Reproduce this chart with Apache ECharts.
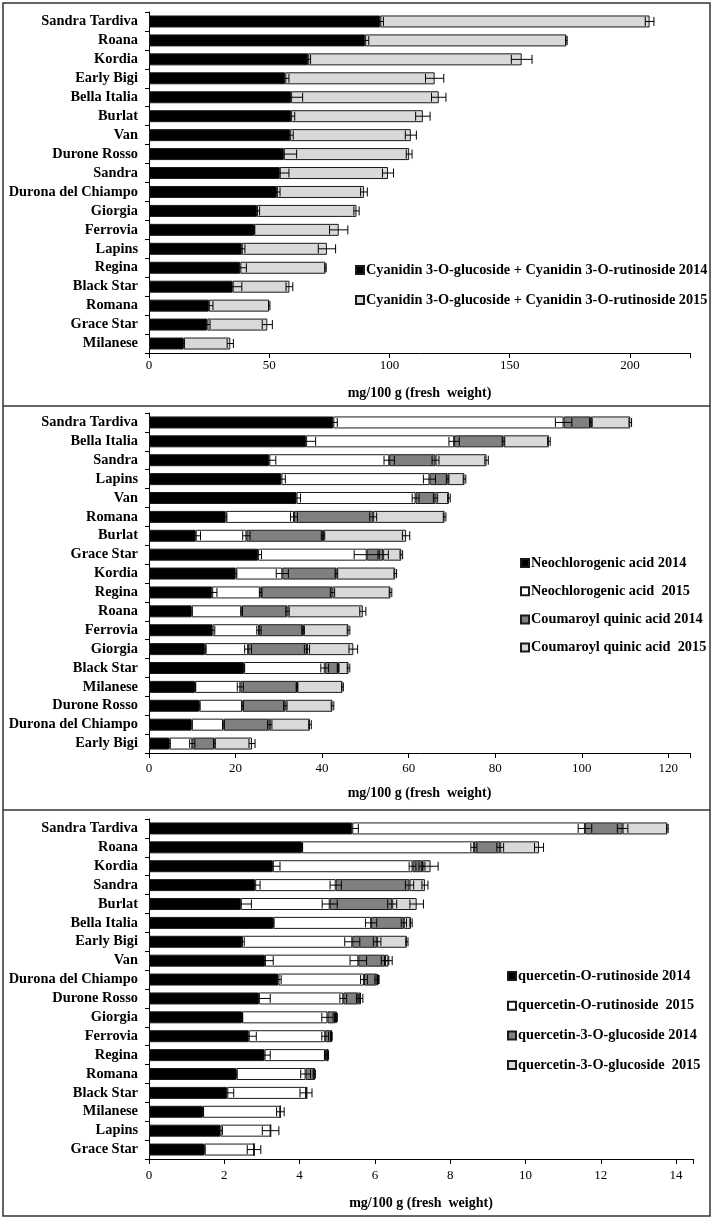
<!DOCTYPE html>
<html>
<head>
<meta charset="utf-8">
<script src="https://cdn.jsdelivr.net/npm/echarts@6/dist/echarts.min.js"></script>
<style>html,body{margin:0;padding:0;background:#fff;}#c{width:714px;height:1220px;}</style>
</head>
<body>
<div id="c"></div>
<script>
// ---------- Panel 1: anthocyanins ----------
const p1Cats = ['Sandra Tardiva','Roana','Kordia','Early Bigi','Bella Italia','Burlat','Van','Durone Rosso','Sandra','Durona del Chiampo','Giorgia','Ferrovia','Lapins','Regina','Black Star','Romana','Grace Star','Milanese'];
const p1Names = ['Cyanidin 3-O-glucoside + Cyanidin 3-O-rutinoside 2014','Cyanidin 3-O-glucoside + Cyanidin 3-O-rutinoside 2015'];
const p1V2014 = [96.2,89.9,66.2,56.7,59.1,59.1,58.7,56.1,54.4,53.2,44.9,43.7,38.6,38.0,34.8,24.9,24.3,14.4];
const p1V2015 = [112.0,83.7,88.8,62.1,61.4,54.8,50.2,52.1,45.0,36.2,41.4,35.2,35.4,35.4,23.6,25.1,24.9,19.4];
const p1E2014 = [1.3,1.5,1.0,1.5,4.8,1.5,1.3,5.3,3.8,1.3,1.1,0.3,1.3,2.5,3.8,1.7,1.1,0.3];
const p1E2015 = [1.8,0.3,4.3,3.8,3.0,3.0,2.3,1.2,2.3,1.4,1.1,3.8,3.6,0.3,1.4,0.3,2.1,1.3];
const p1Ticks = [0,50,100,150,200];

// ---------- Panel 2: hydroxycinnamic acids ----------
const p2Cats = ['Sandra Tardiva','Bella Italia','Sandra','Lapins','Van','Romana','Burlat','Grace Star','Kordia','Regina','Roana','Ferrovia','Giorgia','Black Star','Milanese','Durone Rosso','Durona del Chiampo','Early Bigi'];
const p2Names = ['Neochlorogenic acid 2014','Neochlorogenic acid  2015','Coumaroyl quinic acid 2014','Coumaroyl quinic acid  2015'];
const p2Neo2014 = [42.6,36.3,27.8,30.6,34.1,17.7,10.8,25.2,20.0,14.6,9.8,14.7,12.9,21.9,10.6,11.6,9.8,4.7];
const p2Neo2015 = [53.2,34.2,27.7,34.2,27.5,15.8,11.7,25.1,10.8,11.2,11.6,10.7,10.0,18.7,10.5,10.0,7.4,5.3];
const p2Cou2014 = [6.3,11.4,10.7,4.2,4.6,18.3,17.7,3.8,12.5,16.6,10.6,10.2,13.6,3.1,13.1,9.9,10.7,5.1];
const p2Cou2015 = [9.1,10.5,11.8,3.9,3.1,16.5,19.2,4.2,13.6,13.4,17.4,10.5,10.7,2.4,10.5,10.9,9.3,8.7];
const p2ENeo2014 = [0.9,2.2,1.5,0.9,0.9,0.3,1.1,0.8,0.3,1.1,0.2,0.5,0.3,0.2,0.2,0.2,0.2,0.2];
const p2ENeo2015 = [1.9,1.2,1.2,1.4,0.8,0.8,0.85,2.9,1.4,0.3,0.2,0.5,0.8,0.9,0.7,0.2,0.2,0.6];
const p2ECou2014 = [0.3,0.3,0.8,0.3,0.5,0.8,0.4,1.2,0.3,0.5,0.4,0.3,0.6,0.2,0.2,0.4,0.5,0.2];
const p2ECou2015 = [0.3,0.3,0.4,0.3,0.3,0.3,0.85,0.3,0.3,0.3,0.7,0.3,1.0,0.3,0.2,0.3,0.3,0.7];
const p2Ticks = [0,20,40,60,80,100,120];

// ---------- Panel 3: flavonols ----------
const p3Cats = ['Sandra Tardiva','Roana','Kordia','Sandra','Burlat','Bella Italia','Early Bigi','Van','Durona del Chiampo','Durone Rosso','Giorgia','Ferrovia','Regina','Romana','Black Star','Milanese','Lapins','Grace Star'];
const p3Names = ['quercetin-O-rutinoside 2014','quercetin-O-rutinoside  2015','quercetin-3-O-glucoside 2014','quercetin-3-O-glucoside  2015'];
const p3Rut2014 = [5.40,4.06,3.29,2.82,2.44,3.30,2.47,3.08,3.44,2.92,2.47,2.65,3.07,2.32,2.08,1.43,1.90,1.47];
const p3Rut2015 = [6.18,4.57,3.71,2.14,2.36,2.60,2.93,2.48,2.27,2.24,2.27,2.03,1.61,1.84,2.09,2.06,1.33,1.32];
const p3Glu2014 = [1.00,0.70,0.25,1.96,1.66,0.87,0.66,0.71,0.34,0.40,0.22,0.16,0.07,0.23,0.02,0,0,0];
const p3Glu2015 = [1.19,1.03,0.23,0.41,0.65,0.19,0.79,0.09,0.04,0.07,0.02,0.01,0,0,0,0,0,0];
const p3ERut2014 = [0.16,0.02,0.19,0.13,0.28,0.02,0.06,0.22,0.07,0.30,0.02,0.20,0.15,0.02,0.17,0.02,0.05,0.02];
const p3ERut2015 = [0.18,0.08,0.09,0.15,0.20,0.15,0.20,0.22,0.09,0.09,0.15,0.09,0.02,0.13,0.16,0.10,0.22,0.18];
const p3EGlu2014 = [0.14,0.09,0.08,0.11,0.12,0.07,0.10,0.10,0.05,0.05,0.03,0.02,0.02,0.03,0,0,0,0];
const p3EGlu2015 = [0.02,0.12,0.20,0.08,0.18,0.03,0.03,0.10,0.02,0.05,0.02,0.01,0,0,0,0,0,0];
const p3Ticks = [0,2,4,6,8,10,12,14];

const FONT = "'Liberation Serif','Times New Roman',serif";
const BLACK = '#000000', WHITE = '#ffffff', DARK = '#808080', LIGHT = '#d9d9d9';
const AXIS_TITLE = 'mg/100 g (fresh  weight)';

const grids = [
  {left:149, right:24, top:12, height:341},
  {left:149, right:24, top:413, height:340},
  {left:149, right:21, top:819, height:340}
];

function errRender(params, api){
  const x = api.value(0), yi = api.value(1), e = api.value(2);
  if (!e) return null;
  const l = api.coord([x - e, yi]);
  const r = api.coord([x + e, yi]);
  const h = 4.5;
  const st = {stroke:'#000', lineWidth:1};
  return {type:'group', children:[
    {type:'line', shape:{x1:l[0], y1:l[1], x2:r[0], y2:r[1]}, style:st},
    {type:'line', shape:{x1:l[0], y1:l[1]-h, x2:l[0], y2:l[1]+h}, style:st},
    {type:'line', shape:{x1:r[0], y1:r[1]-h, x2:r[0], y2:r[1]+h}, style:st}
  ]};
}

const series = [];
function addPanel(gi, names, segs, errs, colors){
  const cum = segs[0].map(() => 0);
  segs.forEach((vals, si) => {
    series.push({
      name: names[si], type:'bar', stack:'p'+gi, xAxisIndex:gi, yAxisIndex:gi,
      barWidth:12, data: vals,
      itemStyle:{color:colors[si], borderColor:'#1a1a1a', borderWidth:1},
      emphasis:{disabled:true}, animation:false
    });
    const ed = vals.map((v, i) => { cum[i] += v; return [cum[i], i, errs[si][i]]; });
    series.push({
      type:'custom', xAxisIndex:gi, yAxisIndex:gi, z:10, renderItem: errRender,
      data: ed, encode:{x:0, y:1}, silent:true, animation:false
    });
  });
}
addPanel(0, p1Names, [p1V2014, p1V2015], [p1E2014, p1E2015], [BLACK, LIGHT]);
addPanel(1, p2Names, [p2Neo2014, p2Neo2015, p2Cou2014, p2Cou2015], [p2ENeo2014, p2ENeo2015, p2ECou2014, p2ECou2015], [BLACK, WHITE, DARK, LIGHT]);
addPanel(2, p3Names, [p3Rut2014, p3Rut2015, p3Glu2014, p3Glu2015], [p3ERut2014, p3ERut2015, p3EGlu2014, p3EGlu2015], [BLACK, WHITE, DARK, LIGHT]);

function xAx(gi, max, ticks, labelMargin, nameGap){
  const interval = ticks[1] - ticks[0];
  return {
    type:'value', gridIndex:gi, min:0, max:max, interval:interval,
    name: AXIS_TITLE, nameLocation:'middle', nameGap:nameGap,
    nameTextStyle:{fontFamily:FONT, fontWeight:'bold', fontSize:14, color:'#000'},
    axisLine:{show:true, lineStyle:{color:'#000', width:1}},
    axisTick:{show:true, inside:false, length:5, lineStyle:{color:'#000'}},
    splitLine:{show:false},
    axisLabel:{fontFamily:FONT, fontSize:13, color:'#000', margin:labelMargin,
      formatter: v => ticks.indexOf(v) >= 0 ? String(v) : ''}
  };
}
function yAx(gi, cats){
  return {
    type:'category', gridIndex:gi, data:cats, inverse:true,
    axisLine:{show:true, lineStyle:{color:'#000', width:1}},
    axisTick:{show:true, length:4, interval:0, lineStyle:{color:'#000'}},
    axisLabel:{fontFamily:FONT, fontWeight:'bold', fontSize:14.4, color:'#000', margin:11, interval:0}
  };
}
function leg(names, left, top, gap){
  return {
    data: names, orient:'vertical', left:left, top:top, itemGap:gap,
    itemWidth:8, itemHeight:8, icon:'rect', selectedMode:false,
    textStyle:{fontFamily:FONT, fontWeight:'bold', fontSize:14.3, color:'#000', padding:[0,0,0,-3]}
  };
}

const option = {
  backgroundColor:'#fff',
  animation:false,
  grid: grids.map(g => Object.assign({outerBoundsMode:'none'}, g)),
  xAxis: [xAx(0, 225, p1Ticks, 6, 33), xAx(1, 125, p2Ticks, 9, 33), xAx(2, 14.45, p3Ticks, 10, 37)],
  yAxis: [yAx(0, p1Cats), yAx(1, p2Cats), yAx(2, p3Cats)],
  legend: [
    leg(p1Names, 350, 258, 16),
    leg(p2Names, 515, 551, 14.2),
    leg(p3Names, 502, 964, 15.7)
  ],
  graphic: [
    {type:'rect', shape:{x:3, y:3, width:707, height:1213}, style:{fill:null, stroke:'#333', lineWidth:1.5}, silent:true},
    {type:'line', shape:{x1:3, y1:406, x2:710, y2:406}, style:{stroke:'#333', lineWidth:1.5}, silent:true},
    {type:'line', shape:{x1:3, y1:810, x2:710, y2:810}, style:{stroke:'#333', lineWidth:1.5}, silent:true}
  ],
  series: series
};
const chart = echarts.init(document.getElementById('c'), null, {renderer:'canvas'});
chart.setOption(option);
</script>
</body>
</html>
